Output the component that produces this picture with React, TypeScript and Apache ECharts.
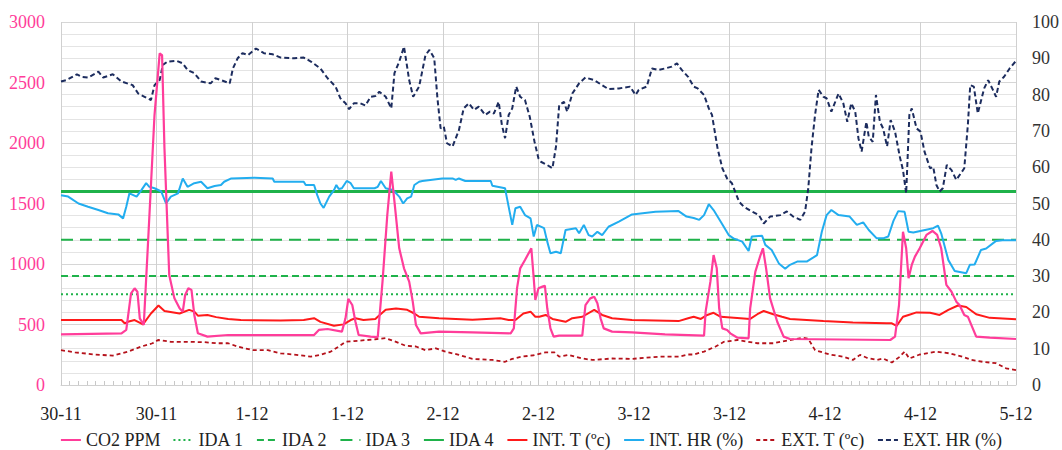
import React, { useEffect, useRef } from "react";
import * as echarts from "echarts";

// X tick labels (one every 12 hours, 0..120 h)
const xLabels = ["30-11", "30-11", "1-12", "1-12", "2-12", "2-12", "3-12", "3-12", "4-12", "4-12", "5-12"];

// IDA reference levels (ppm)
const idaNames = ["IDA 1", "IDA 2", "IDA 3", "IDA 4"];
const idaLevels = [750, 900, 1200, 1600];

// [hour, ppm]
const co2: number[][] = [
  [0, 419], [7.6, 427], [8.2, 455], [8.8, 758], [9.25, 799], [9.6, 771], [9.9, 551], [10.4, 496], [10.9, 1130],
  [11.75, 2231], [12.4, 2741], [12.7, 2727], [13, 1956], [13.6, 909], [14.25, 716], [14.9, 634], [15.3, 606],
  [15.6, 744], [16, 799], [16.4, 785], [16.75, 579], [17.2, 427], [18.4, 400], [21, 413], [31.8, 413], [32.4, 455],
  [33.5, 463], [35.3, 441], [35.75, 551], [36.1, 711], [36.6, 661], [37, 523], [37.4, 413], [38.9, 400], [39.8, 395],
  [40.4, 854], [41, 1405], [41.5, 1763], [41.9, 1515], [42.5, 1130], [43.1, 964], [43.75, 854], [44.2, 689],
  [44.6, 496], [45.2, 427], [47.5, 441], [51.7, 435], [56.5, 427], [56.9, 468], [57.3, 799], [57.7, 964],
  [58.3, 1033], [59.1, 1130], [59.4, 882], [59.6, 703], [60, 799], [60.5, 813], [60.8, 821], [61.1, 634],
  [61.5, 468], [61.9, 400], [62.6, 408], [65.5, 408], [65.9, 661], [66.5, 716], [67, 730], [67.4, 675], [67.8, 551],
  [68.2, 468], [69.25, 441], [71.75, 435], [75.9, 419], [80.8, 408], [81, 606], [81.6, 854], [82, 1074], [82.4, 964],
  [82.7, 634], [83.1, 468], [83.7, 455], [84.1, 427], [85, 391], [86.4, 386], [86.6, 634], [87.25, 937], [87.9, 1074],
  [88.2, 1130], [88.6, 964], [89.1, 716], [90, 523], [90.8, 400], [91.6, 380], [104.2, 372], [104.8, 400],
  [105.3, 661], [105.8, 1267], [106.2, 1130], [106.5, 882], [106.9, 992], [107.3, 1061], [107.9, 1130],
  [108.75, 1240], [109.5, 1273], [110.1, 1240], [110.6, 1130], [111.25, 827], [111.9, 771], [112.5, 689],
  [112.9, 661], [113.5, 579], [113.95, 565], [115, 400], [116.7, 391], [120, 380],
];

// [hour, ºC]
const intT: number[][] = [
  [0, 17.9], [7.6, 17.9], [8, 17], [8.4, 17.4], [9.25, 17.9], [10.3, 16.7], [11.3, 19.7], [12.25, 21.9], [13, 20.4],
  [14.9, 19.7], [16.1, 20.7], [16.75, 20.2], [17.2, 19.1], [18.4, 19.3], [19.5, 18.7], [21, 18.2], [22.6, 17.9],
  [27.6, 17.8], [30.5, 17.9], [31.8, 18.4], [32.6, 17.4], [34.3, 16.3], [35.5, 16.7], [36.4, 17.9], [37, 18.4],
  [38, 17.9], [39.5, 18.2], [39.8, 18.8], [40.8, 20.7], [42.1, 21.1], [43.5, 20.7], [44.4, 19.7], [45, 18.8],
  [47.5, 18.4], [51.7, 18], [55.2, 18.4], [56.25, 17.9], [57.1, 17.9], [58.1, 19.7], [59, 20.2], [59.6, 18.8],
  [60.1, 18.8], [60.9, 19.3], [61.75, 18.2], [63.4, 17.4], [64.25, 18.4], [65.5, 18.8], [67, 20.7], [68, 19.3],
  [69.25, 18.4], [71.75, 17.9], [77.6, 17.6], [78.8, 18.4], [79.5, 18.8], [80.4, 18.2], [81.2, 19.3], [82, 19.9],
  [82.9, 18.8], [86.6, 18.2], [87.5, 19.5], [88.3, 20.4], [89.5, 19.5], [90.6, 18.8], [91.6, 18.2], [95.8, 17.6],
  [99.5, 17.2], [103.75, 17], [104.4, 17], [105, 16.3], [105.8, 18.8], [106.5, 19.3], [107.5, 20], [109.2, 19.9],
  [110.4, 19.3], [111.5, 20.7], [112.7, 21.9], [113.75, 21.5], [115, 19.5], [116.7, 18.5], [120, 18.1],
];

// [hour, %]
const intHR: number[][] = [
  [0, 52.3], [0.9, 51.9], [2.2, 50], [3.4, 49.1], [4.7, 48.2], [5.9, 47.3], [7.2, 47], [7.8, 45.9], [8.2, 49.1],
  [8.6, 52.8], [9.5, 51.9], [10.1, 53.7], [10.7, 55.6], [11.1, 54.6], [11.75, 54.2], [12.6, 53.3], [13.2, 50],
  [13.8, 51.9], [14.7, 52.8], [15.3, 56.9], [15.9, 54.6], [16.75, 55.6], [17.6, 56], [18.4, 54.2], [19.3, 54.8],
  [20.1, 55.1], [20.5, 56], [21.4, 56.9], [24.3, 57.1], [26.6, 56.9], [26.8, 56], [30.5, 56], [30.75, 55.1],
  [31.8, 55.1], [32.2, 52.3], [32.6, 50], [33, 48.8], [33.7, 51.9], [34.3, 53.7], [34.6, 55.1], [34.9, 54],
  [35.3, 54.2], [35.9, 56.2], [36.4, 55.6], [36.8, 54.2], [39.4, 54.2], [39.8, 54.6], [40.2, 56.2], [40.8, 54.2],
  [41.7, 53.7], [42.5, 51.9], [43, 50], [43.5, 51.4], [44, 51.9], [44.4, 55.1], [45, 56], [45.4, 56.2], [47.9, 56.9],
  [49.2, 56.9], [49.6, 56.5], [50, 56.9], [50.8, 56.2], [54, 56.2], [54.2, 54.9], [55.8, 54.2], [56, 51.9],
  [56.7, 44.1], [57.1, 48.7], [57.7, 49.1], [58.3, 46.8], [59, 45.9], [59.4, 40.9], [59.8, 44.1], [60.7, 43.2],
  [61.1, 39.5], [61.5, 36.3], [62.2, 36.7], [62.8, 36.3], [63.4, 42.7], [64.7, 43.2], [65.1, 41.8], [65.7, 44.1],
  [66.3, 41.3], [66.75, 40.9], [67.4, 42.2], [68, 41.3], [68.8, 43.6], [70.1, 45], [71.75, 47], [74.7, 47.7],
  [77.6, 47.9], [78.6, 46.4], [79.5, 46], [80.2, 45.5], [80.8, 46.8], [81.4, 49.8], [82, 48.2], [82.9, 45],
  [83.9, 41.3], [84.5, 40.4], [85.6, 39.5], [86.4, 36.9], [86.8, 40.9], [88.1, 41.1], [88.5, 38.6], [89.3, 37.2],
  [90.2, 33.5], [91, 32], [91.6, 33.1], [92.5, 34], [93.7, 34], [94.5, 35.1], [95, 35.8], [95.6, 42.2], [96.2, 46.8],
  [96.8, 48.2], [97.7, 46.8], [99.1, 46.4], [100, 44.1], [100.8, 44.8], [101.5, 42.7], [102.5, 40.4], [103.3, 40.4],
  [103.95, 40.9], [104.6, 45.2], [105.2, 47.9], [106, 47.7], [106.5, 42.2], [107.1, 42], [109.6, 43.2],
  [110.2, 43.9], [110.6, 41.8], [111.5, 34.4], [112.3, 31.4], [113.75, 30.8], [114.2, 33.1], [114.8, 33.2],
  [115.6, 37.2], [116.25, 37.6], [117.5, 39.7], [118.3, 39.9], [120, 39.9],
];

// [hour, ºC]
const extT: number[][] = [
  [0, 9.6], [1.75, 9], [4.25, 8.4], [6.5, 8.1], [8.4, 9.2], [10.1, 10.6], [11.5, 11.5], [12.2, 12.4], [13.8, 11.9],
  [15.9, 11.9], [18, 11.8], [19.5, 11.5], [21, 11.5], [22.2, 10.6], [24.1, 9.6], [26, 9.6], [27.6, 8.7], [29.3, 8.4],
  [31.4, 7.8], [32.6, 8.3], [33.9, 9.2], [34.9, 10.6], [35.75, 11.9], [36.8, 12.1], [38.5, 12.4], [39.5, 12.6],
  [40.8, 12.9], [42.1, 11.9], [43.3, 10.8], [44.6, 10.6], [45.8, 9.6], [47.1, 10.1], [48.3, 9.2], [50, 8.3],
  [51.7, 7.2], [54.2, 6.9], [55.8, 6.4], [56.7, 7.2], [57.9, 7.8], [59.4, 8.2], [60.9, 9], [62, 9], [62.6, 7.8],
  [63.8, 8.3], [65.5, 7.3], [66.75, 6.9], [69.25, 7.3], [71.75, 7.2], [75.1, 7.8], [77.6, 7.8], [78.8, 8.4],
  [79.5, 8.4], [80.8, 9.2], [82.25, 10.6], [83.3, 11.9], [85, 12.4], [87.5, 11.5], [89.5, 11.5], [91.6, 12.4],
  [93.3, 13], [93.9, 12.7], [94.75, 9.6], [96.6, 8.4], [98.3, 7.8], [99.5, 6.9], [100.4, 8.3], [101.25, 7.5],
  [102.5, 6.9], [103.3, 7.3], [104.4, 6.2], [105.4, 7.8], [106, 9.2], [106.6, 7.3], [107.9, 8.4], [110, 9.2],
  [111.7, 8.7], [113.3, 7.8], [114.4, 6.9], [115.8, 6.4], [117.5, 6], [118.75, 4.6], [120, 4.1],
];

// [hour, %]
const extHR: number[][] = [
  [0, 83.6], [0.7, 84], [2, 85.6], [2.6, 84.9], [3.4, 84.7], [4.7, 86.3], [5.3, 84.7], [6.5, 85.6], [7.6, 83.6],
  [9, 82.6], [9.7, 80.3], [10.5, 79.4], [11.3, 78.5], [11.75, 82.6], [12.4, 84], [12.8, 88.2], [13.4, 89.1],
  [14.5, 89.3], [15.3, 88.6], [15.9, 86.8], [16.75, 85.9], [17.6, 83.6], [18.8, 83.1], [19.4, 84.5], [20.1, 84],
  [21.2, 83.1], [21.6, 87.2], [22.2, 90], [22.8, 91.4], [23.5, 90.9], [24.5, 92.7], [25.5, 91.4], [26.6, 91.1],
  [27.6, 90.2], [29.3, 90], [30.5, 90.2], [31.4, 89.1], [32.6, 87.2], [33.5, 84.5], [34.5, 82.2], [35.1, 79],
  [35.75, 77.6], [36.2, 76], [36.8, 77.6], [37.6, 77.6], [38.25, 77], [38.9, 79.4], [39.5, 79.6], [40, 80.8],
  [40.8, 79.4], [41.5, 76.2], [41.9, 85.9], [42.5, 89.1], [43.1, 93.2], [43.75, 84], [44.25, 79.4], [45, 82.2],
  [45.8, 90.9], [46.3, 92.3], [46.9, 90], [47.3, 79], [47.7, 70.7], [48.1, 71.2], [48.5, 66.6], [49.2, 65.7],
  [50, 70.2], [50.6, 76.2], [51.25, 77.6], [51.9, 75.8], [52.5, 76.7], [53.3, 74.4], [53.9, 75.3], [54.4, 74.8],
  [55, 78], [55.4, 71.6], [55.8, 68], [56.25, 74.4], [56.7, 76.2], [57.2, 82.2], [57.7, 79.4], [58.3, 78.5],
  [58.9, 73.9], [59.5, 67], [60, 62.4], [60.3, 61.5], [61.1, 60.6], [61.75, 59.7], [62.2, 65.7], [62.6, 77.1],
  [63.2, 78], [63.6, 75.3], [64.25, 80.3], [65.1, 83.1], [65.9, 84.7], [67, 84], [68, 82.6], [68.8, 81.5],
  [70.1, 81.7], [71.5, 82.2], [72.2, 79.9], [72.6, 81.3], [73.6, 82.2], [74.25, 87.2], [75.1, 86.8], [75.9, 87.2],
  [76.75, 87.7], [77.4, 88.6], [78, 86.8], [78.8, 84.9], [79.5, 82.2], [80, 81.7], [80.8, 79.9], [81.4, 76.2],
  [81.8, 74.4], [82.5, 65.2], [83.1, 59.7], [83.7, 56.9], [84.3, 55.6], [85.2, 50.5], [85.8, 49.1], [86.8, 47.8],
  [87.7, 46.8], [88.3, 44.5], [89.1, 46.4], [90.4, 46.8], [91.2, 47.8], [92, 46.4], [92.9, 45.5], [93.5, 47.8],
  [93.9, 54.2], [94.3, 65.2], [94.75, 74.4], [95.2, 81.3], [95.8, 79.4], [96.2, 79], [96.8, 75.3], [97.7, 80.3],
  [98.3, 77.6], [98.8, 72.5], [99.3, 77.6], [99.8, 75.3], [100.2, 68], [100.6, 64.3], [101.2, 72.5], [101.5, 68.4],
  [102, 67], [102.4, 79.9], [102.9, 72.5], [103.3, 70.7], [103.8, 65.7], [104.25, 73], [104.8, 69.8], [105.4, 62.9],
  [105.8, 59.2], [106.2, 52.8], [106.6, 74.4], [106.9, 76.2], [107.5, 70.7], [108, 69.8], [108.5, 64.3],
  [109.2, 59.7], [109.6, 60.1], [110, 55.1], [110.4, 53.3], [110.8, 54.2], [111.3, 60.6], [111.9, 59.2],
  [112.5, 56.5], [113.5, 59.7], [113.95, 71.6], [114.25, 82.6], [114.7, 82.2], [115.2, 74.8], [116, 81.7],
  [116.5, 84], [117.1, 81.3], [117.5, 79.4], [117.9, 83.6], [118.5, 84.9], [119.2, 87.2], [120, 89.3],
];

const FONT = "Liberation Serif";
const GREEN = "#1fb24a";

export default function App() {
  const ref = useRef<HTMLDivElement>(null);
  useEffect(() => {
    if (!ref.current) return;
    const chart = echarts.init(ref.current, undefined, { renderer: "svg" });
    const idaStyles = [
      { type: [2, 3], width: 2 },
      { type: [7, 4], width: 2 },
      { type: [12, 7], width: 2 },
      { type: "solid", width: 3 },
    ];
    const idaSeries = idaNames.map((n, i) => ({
      name: n,
      type: "line",
      yAxisIndex: 0,
      symbol: "none",
      data: [[0, idaLevels[i]], [120, idaLevels[i]]],
      lineStyle: { color: GREEN, ...idaStyles[i] },
      itemStyle: { color: GREEN },
      z: 2,
    }));
    const mk = (name: string, data: number[][], color: string, yAxisIndex: number, type: any, width: number, z: number) => ({
      name,
      type: "line",
      yAxisIndex,
      symbol: "none",
      data,
      lineStyle: { color, type, width },
      itemStyle: { color },
      z,
    });
    chart.setOption({
      animation: false,
      textStyle: { fontFamily: FONT },
      grid: { left: 61, right: 41, top: 22, bottom: 65, containLabel: false },
      legend: {
        top: 426,
        left: "center",
        itemWidth: 20,
        itemHeight: 4,
        itemGap: 12,
        itemStyle: { opacity: 0 },
        textStyle: { fontFamily: FONT, fontSize: 18, color: "#222" },
        data: ["CO2 PPM", ...idaNames, "INT. T (ºc)", "INT. HR (%)", "EXT. T (ºc)", "EXT. HR (%)"],
      },
      xAxis: {
        type: "value",
        min: 0,
        max: 120,
        interval: 12,
        axisLine: { show: true, lineStyle: { color: "#d0d0d0", width: 1 } },
        axisTick: { show: true, inside: true, length: 5, lineStyle: { color: "#c8c8c8" } },
        minorTick: { show: true, splitNumber: 11, length: 4, lineStyle: { color: "#c8c8c8" } },
        splitLine: { show: true, lineStyle: { color: "#d0d0d0", width: 1 } },
        axisLabel: {
          fontFamily: FONT,
          fontSize: 18,
          color: "#222",
          margin: 20,
          formatter: (v: number) => xLabels[Math.round(v / 12)] ?? "",
        },
      },
      yAxis: [
        {
          type: "value",
          min: 0,
          max: 3000,
          interval: 500,
          axisLine: { show: false },
          axisTick: { show: false },
          splitLine: { show: true, lineStyle: { color: "#d6d6d6", width: 1 } },
          minorTick: { show: false, splitNumber: 5 },
          minorSplitLine: { show: true, lineStyle: { color: "#e4e4e4", width: 1 } },
          axisLabel: { fontFamily: FONT, fontSize: 18, color: "#ff3d9a", margin: 16, formatter: (v: number) => String(v) },
        },
        {
          type: "value",
          min: 0,
          max: 100,
          interval: 10,
          axisLine: { show: false },
          axisTick: { show: false },
          splitLine: { show: false },
          axisLabel: { fontFamily: FONT, fontSize: 18, color: "#333", margin: 16, formatter: (v: number) => String(v) },
        },
      ],
      series: [
        mk("CO2 PPM", co2, "#ff3d9a", 0, "solid", 2.2, 6),
        ...idaSeries,
        mk("INT. T (ºc)", intT, "#ff1a1a", 1, "solid", 2, 4),
        mk("INT. HR (%)", intHR, "#22adef", 1, "solid", 2, 4),
        mk("EXT. T (ºc)", extT, "#b5121b", 1, [4, 3], 1.8, 4),
        mk("EXT. HR (%)", extHR, "#1c2c5e", 1, [5, 3], 2, 5),
      ],
    });
    return () => chart.dispose();
  }, []);
  return <div ref={ref} style={{ width: 1062, height: 450, position: "absolute", left: 0, top: 0 }} />;
}
